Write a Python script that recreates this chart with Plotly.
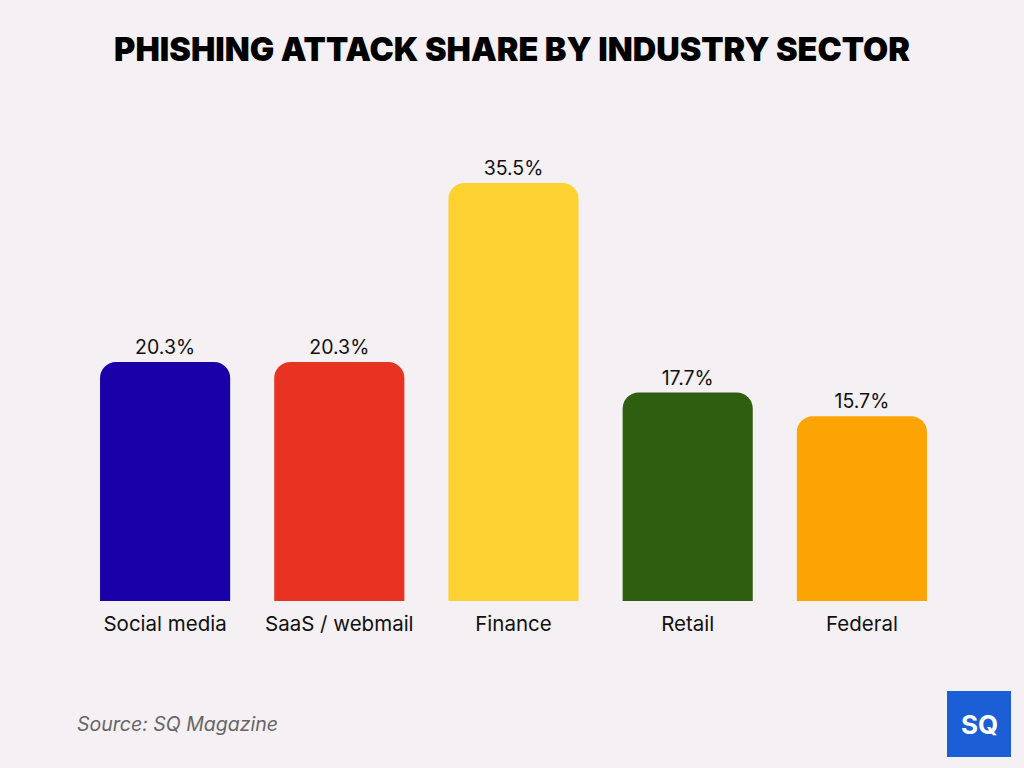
import plotly.graph_objects as go

categories = ["Social media", "SaaS / webmail", "Finance", "Retail", "Federal"]
values = [20.3, 20.3, 35.5, 17.7, 15.7]
colors = ["#1a00a8", "#e83222", "#fdd130", "#2e5e10", "#fca403"]
labels = [f"{v}%" for v in values]

fig = go.Figure(go.Bar(
    x=categories, y=values, marker=dict(color=colors, line=dict(width=0)),
    text=labels, textposition="outside", cliponaxis=False,
    textfont=dict(family="Inter", size=19.5, color="#111111"),
))

fig.update_layout(
    width=1024, height=768,
    margin=dict(l=78, r=75, t=130, b=167),
    paper_bgcolor="#f4f0f3", plot_bgcolor="rgba(0,0,0,0)",
    bargap=0.253, barcornerradius=16,
    showlegend=False,
    title=dict(text="PHISHING ATTACK SHARE BY INDUSTRY SECTOR", x=0.5, xanchor="center",
               y=0.936, yanchor="middle",
               font=dict(family="Inter", size=32.5, color="#000000", weight=900)),
    xaxis=dict(showgrid=False, zeroline=False, showline=False, ticks="",
               tickfont=dict(family="Inter", size=20.5, color="#111111"), ticklabelstandoff=8),
    yaxis=dict(range=[0, 40], visible=False),
)

fig.add_annotation(text="<i>Source: SQ Magazine</i>", xref="paper", yref="paper", x=-0.003, y=-0.262,
                   xanchor="left", yanchor="middle", showarrow=False,
                   font=dict(family="Inter", size=19.5, color="#666666"))

fig.add_shape(type="rect", xref="paper", yref="paper",
              x0=(947-78)/871, x1=(1011-78)/871, y0=(601-757)/471, y1=(601-691)/471,
              fillcolor="#1b5ed6", line=dict(width=0))
fig.add_annotation(text="<b>SQ</b>", xref="paper", yref="paper",
                   x=(979-78)/871, y=(601-724)/471, xanchor="center", yanchor="middle",
                   showarrow=False, font=dict(family="Inter", size=26, color="white"))

fig.write_html("out.html")
